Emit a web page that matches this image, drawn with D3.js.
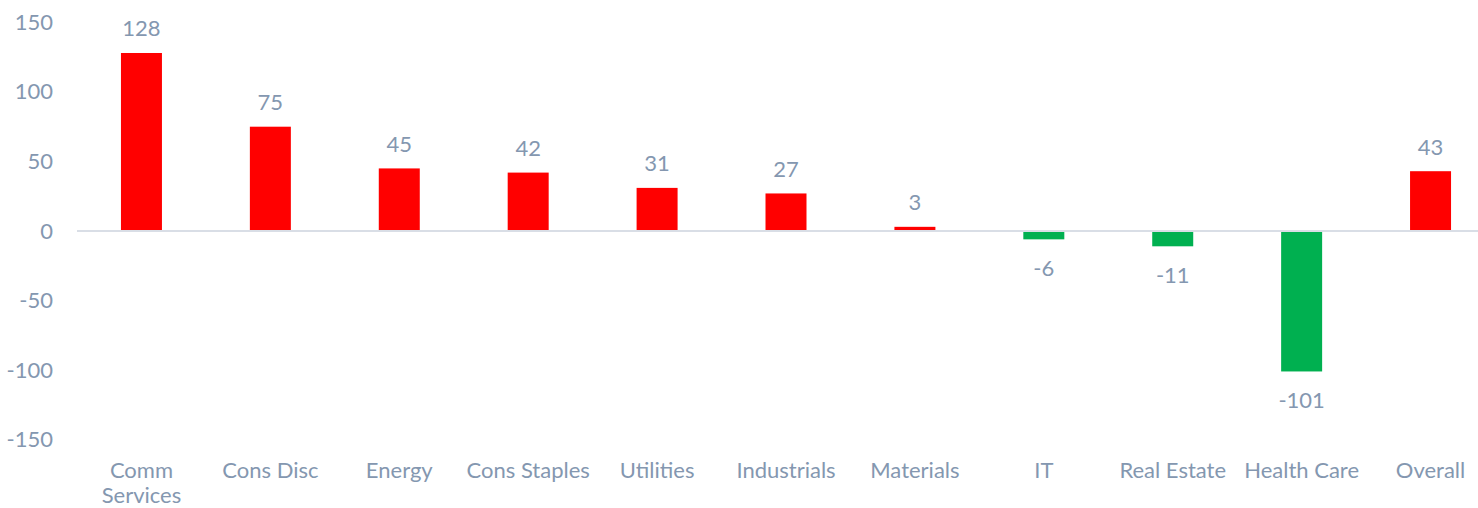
<!DOCTYPE html>
<html>
<head>
<meta charset="utf-8">
<script src="https://cdn.jsdelivr.net/npm/d3@7"></script>
<style>
  html, body { margin: 0; padding: 0; background: #ffffff; }
  svg { display: block; }
  text { font-family: Lato, "Open Sans", sans-serif; fill: #8497b0; }
</style>
</head>
<body>
<svg id="chart" width="1478" height="508"></svg>
<script>
// Sector contributions
const categories = [
  ["Comm", "Services"], ["Cons Disc"], ["Energy"], ["Cons Staples"], ["Utilities"],
  ["Industrials"], ["Materials"], ["IT"], ["Real Estate"], ["Health Care"], ["Overall"]
];
const values = [128, 75, 45, 42, 31, 27, 3, -6, -11, -101, 43];
const yTicks = [-150, -100, -50, 0, 50, 100, 150];

const svg = d3.select("#chart");
const fontSize = 22;

const x = d3.scaleBand()
  .domain(d3.range(categories.length))
  .range([77, 1495])
  .paddingInner(0.682)
  .paddingOuter(0.341);

const y = d3.scaleLinear()
  .domain([-150, 150])
  .range([439.6, 22.4]);

// y axis labels (no line, no ticks), plain hyphen for negatives
const yAxis = d3.axisLeft(y).tickValues(yTicks).tickSize(0).tickPadding(0)
  .tickFormat(d => String(d));
const gy = svg.append("g").attr("transform", "translate(53,0)").call(yAxis);
gy.select(".domain").remove();
gy.selectAll("text")
  .attr("fill", "#8497b0")
  .style("font-size", fontSize + "px")
  .style("font-family", "Lato, 'Open Sans', sans-serif");

// Zero baseline
svg.append("line")
  .attr("x1", 77).attr("x2", 1478)
  .attr("y1", y(0)).attr("y2", y(0))
  .attr("stroke", "#d9dee6")
  .attr("stroke-width", 2);

// Bars
svg.append("g").selectAll("rect")
  .data(values)
  .join("rect")
  .attr("x", (d, i) => x(i))
  .attr("width", x.bandwidth())
  .attr("y", d => d >= 0 ? y(d) : y(0) + 1)
  .attr("height", d => d >= 0 ? y(0) - 1 - y(d) : y(d) - y(0) - 1)
  .attr("fill", d => d >= 0 ? "#ff0000" : "#00b050");

// Value labels
svg.append("g").selectAll("text")
  .data(values)
  .join("text")
  .attr("x", (d, i) => x(i) + x.bandwidth() / 2)
  .attr("y", d => d >= 0 ? y(d) - 25 : y(d) + 28)
  .attr("text-anchor", "middle")
  .attr("dominant-baseline", "central")
  .style("font-size", fontSize + "px")
  .text(d => String(d));

// Category labels
const cat = svg.append("g").selectAll("text")
  .data(categories)
  .join("text")
  .attr("x", (d, i) => x(i) + x.bandwidth() / 2)
  .attr("y", 469)
  .attr("text-anchor", "middle")
  .attr("dominant-baseline", "central")
  .style("font-size", fontSize + "px");
cat.selectAll("tspan")
  .data((d, i) => d.map(s => ({ s, i })))
  .join("tspan")
  .attr("x", d => x(d.i) + x.bandwidth() / 2)
  .attr("dy", (d, j) => j === 0 ? 0 : 25)
  .text(d => d.s);
</script>
</body>
</html>
